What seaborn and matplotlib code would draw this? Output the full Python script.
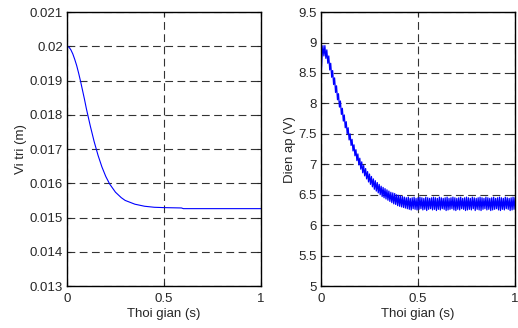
import numpy as np
import pandas as pd
import seaborn as sns
import matplotlib.pyplot as plt
from matplotlib.ticker import FormatStrFormatter

# Vi tri (position) response
t_pos = [0.0, 0.01, 0.02, 0.03, 0.04, 0.05, 0.06, 0.07, 0.08, 0.09, 0.10, 0.12, 0.14,
         0.16, 0.18, 0.20, 0.22, 0.25, 0.28, 0.30, 0.35, 0.40, 0.45, 0.50, 0.59, 0.60, 0.80, 1.0]
pos = [0.0200, 0.01998, 0.01990, 0.01978, 0.01962, 0.01944, 0.01922, 0.01898, 0.01872,
       0.01846, 0.01818, 0.01768, 0.01722, 0.01682, 0.01648, 0.01620, 0.01598, 0.01574,
       0.01558, 0.01550, 0.01539, 0.01533, 0.01530, 0.01529, 0.01528, 0.01526, 0.01526, 0.01526]

# Dien ap (voltage) ripple: peaks at every 0.01 s, troughs half-way between
t_peak = [round(0.01 * k, 3) for k in range(101)]
v_peak = [8.40, 8.95, 8.95, 8.88, 8.78, 8.66, 8.54, 8.42, 8.29, 8.16,
          8.04, 7.92, 7.81, 7.70, 7.60, 7.50, 7.41, 7.32, 7.24, 7.17,
          7.10, 7.04, 6.98, 6.93, 6.88, 6.84, 6.80, 6.76, 6.73, 6.70,
          6.67, 6.64, 6.62, 6.60, 6.58, 6.56, 6.54, 6.53, 6.52, 6.50,
          6.49, 6.48, 6.47, 6.46, 6.45, 6.46, 6.44, 6.45, 6.46, 6.44,
          6.45, 6.46, 6.45, 6.44, 6.46, 6.45, 6.44, 6.45, 6.46, 6.45,
          6.44, 6.46, 6.45, 6.44, 6.45, 6.46, 6.44, 6.45, 6.46, 6.45,
          6.44, 6.45, 6.46, 6.44, 6.45, 6.46, 6.45, 6.44, 6.46, 6.45,
          6.44, 6.45, 6.46, 6.45, 6.44, 6.46, 6.45, 6.44, 6.45, 6.46,
          6.44, 6.45, 6.46, 6.45, 6.44, 6.46, 6.45, 6.44, 6.45, 6.46,
          6.45]
t_trough = [round(0.01 * k + 0.005, 3) for k in range(100)]
v_trough = [8.75, 8.78, 8.74, 8.66, 8.55, 8.43, 8.31, 8.18, 8.06, 7.94,
            7.82, 7.71, 7.60, 7.50, 7.40, 7.31, 7.22, 7.14, 7.06, 6.99,
            6.92, 6.86, 6.81, 6.76, 6.71, 6.67, 6.63, 6.59, 6.56, 6.53,
            6.50, 6.47, 6.45, 6.43, 6.41, 6.39, 6.37, 6.35, 6.34, 6.32,
            6.31, 6.30, 6.29, 6.28, 6.27, 6.26, 6.25, 6.27, 6.26, 6.25,
            6.26, 6.27, 6.25, 6.26, 6.24, 6.26, 6.27, 6.25, 6.26, 6.24,
            6.26, 6.25, 6.27, 6.26, 6.24, 6.25, 6.26, 6.27, 6.25, 6.24,
            6.26, 6.25, 6.27, 6.26, 6.24, 6.25, 6.26, 6.25, 6.27, 6.24,
            6.26, 6.25, 6.24, 6.26, 6.27, 6.25, 6.26, 6.24, 6.25, 6.26,
            6.27, 6.25, 6.24, 6.26, 6.25, 6.27, 6.26, 6.24, 6.25, 6.26]

x_ticks = [0, 0.5, 1]
pos_ticks = [0.013, 0.014, 0.015, 0.016, 0.017, 0.018, 0.019, 0.020, 0.021]
volt_ticks = [5, 5.5, 6, 6.5, 7, 7.5, 8, 8.5, 9, 9.5]

sns.set_style("white")
plt.rcParams['font.family'] = ['Liberation Sans', 'DejaVu Sans']
plt.rcParams['font.size'] = 9.5

fig = plt.figure(figsize=(5.18, 3.28), dpi=100)
ax1 = fig.add_axes([0.1293, 0.128, 0.3745, 0.835])
ax2 = fig.add_axes([0.6197, 0.128, 0.3745, 0.835])

df_pos = pd.DataFrame({'t': t_pos, 'x': pos})
df_volt = pd.concat([pd.DataFrame({'t': t_peak, 'v': v_peak}),
                     pd.DataFrame({'t': t_trough, 'v': v_trough})]).sort_values('t')

sns.lineplot(data=df_pos, x='t', y='x', ax=ax1, color='#0000ff', lw=0.8)
sns.lineplot(data=df_volt, x='t', y='v', ax=ax2, color='#0000ff', lw=0.9,
             sort=False, estimator=None)

for ax, yt, ylab in [(ax1, pos_ticks, 'Vi tri (m)'), (ax2, volt_ticks, 'Dien ap (V)')]:
    ax.set_xlim(0, 1)
    ax.set_ylim(yt[0], yt[-1])
    ax.set_xticks(x_ticks)
    ax.set_yticks(yt)
    ax.xaxis.set_major_formatter(FormatStrFormatter('%g'))
    ax.yaxis.set_major_formatter(FormatStrFormatter('%g'))
    ax.set_xlabel('Thoi gian (s)', fontsize=9.5, labelpad=2)
    ax.set_ylabel(ylab, fontsize=9.5, labelpad=2)
    ax.grid(True, color='0.2', linestyle=(0, (7, 4)), linewidth=0.8)
    ax.tick_params(direction='in', length=3, width=0.8, labelsize=9.5, pad=3,
                   top=True, right=True, bottom=True, left=True)
    ax.tick_params(axis='x', pad=5)
    for s in ax.spines.values():
        s.set_color('black')
        s.set_linewidth(1.0)

fig.savefig('out.png', dpi=100)
